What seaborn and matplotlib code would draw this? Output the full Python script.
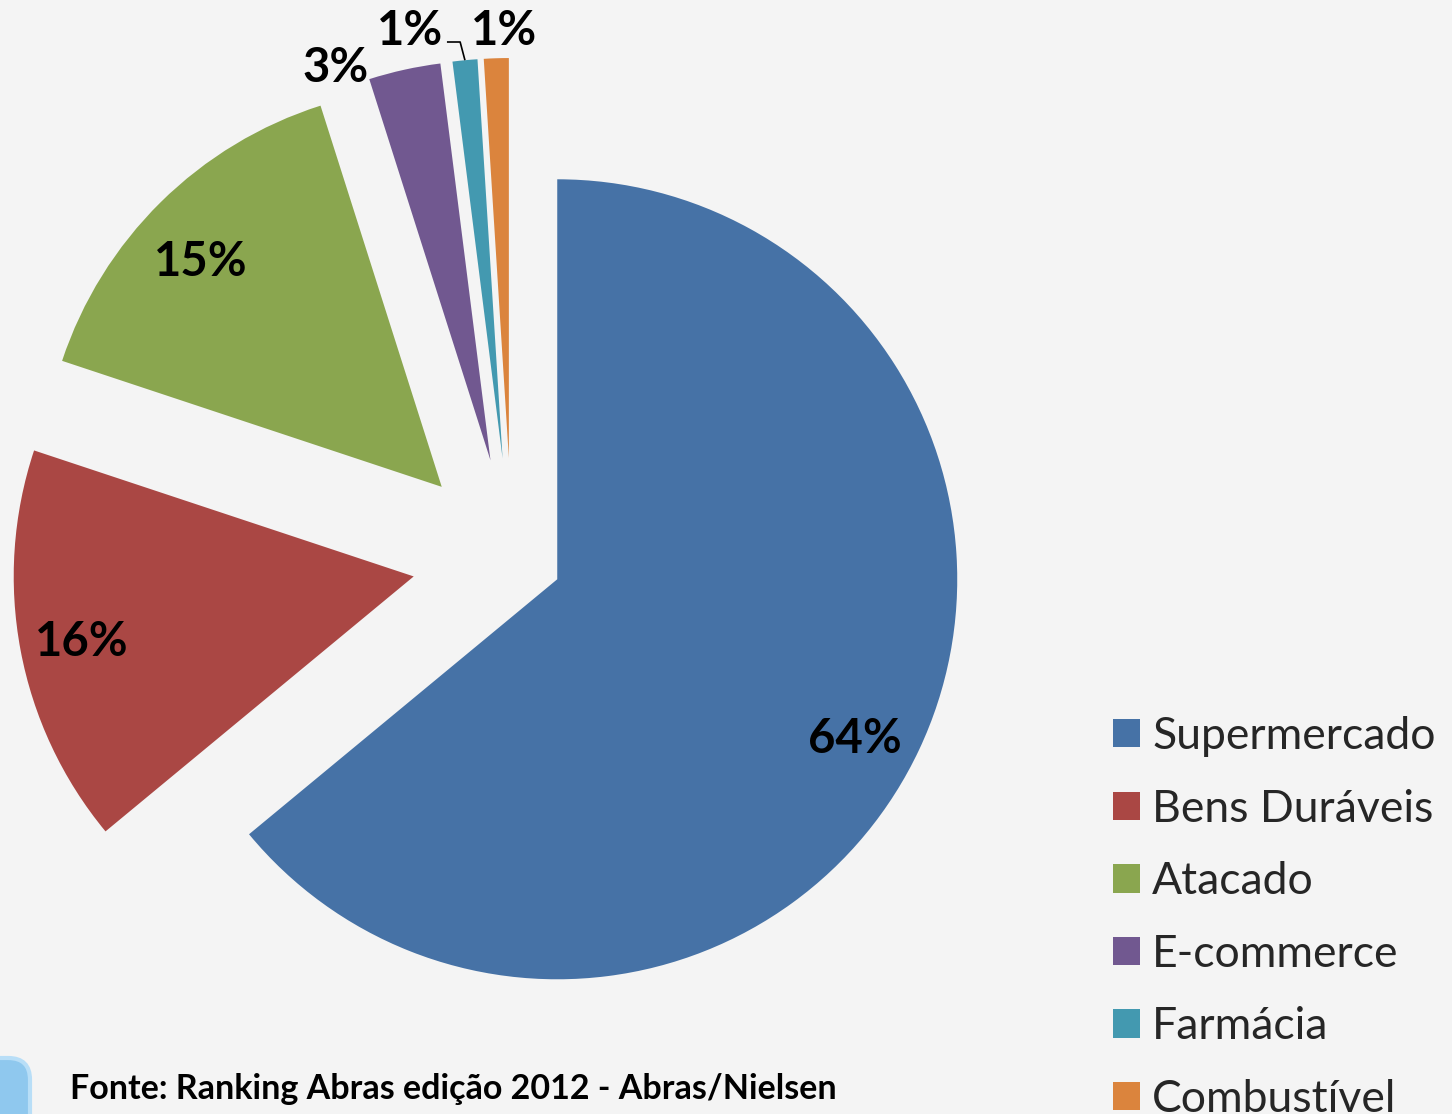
import matplotlib
matplotlib.use("Agg")
import numpy as np
import matplotlib.pyplot as plt
from matplotlib.patches import Patch, FancyBboxPatch
import seaborn as sns

# dados
categories = ["Supermercado", "Bens Duráveis", "Atacado", "E-commerce", "Farmácia", "Combustível"]
shares = [64.0, 16.1, 15.0, 2.9, 1.0, 1.0]
colors = ["#4672A6", "#AA4744", "#8AA64F", "#715890", "#4399B0", "#DB843D"]
source = "Fonte: Ranking Abras edição 2012 - Abras/Nielsen"

sns.set_theme(style="white")
plt.rcParams["font.family"] = ["Lato", "DejaVu Sans"]

W, H = 1452, 1114
R = 400            # raio da pizza em px
cx, cy = 512, 558  # centro da pizza (px, a partir do canto superior esquerdo)
bg = "#F4F4F4"

fig = plt.figure(figsize=(W / 100, H / 100), dpi=100, facecolor=bg)
ax = fig.add_axes([0, 0, 1, 1])
ax.set_facecolor(bg)

explode = [0.125, 0.25, 0.25, 0.25, 0.25, 0.25]
wedges, texts, autotexts = ax.pie(
    shares,
    colors=sns.color_palette(colors),
    startangle=90,
    counterclock=False,
    explode=explode,
    autopct="%.0f%%",
    pctdistance=0.84,
    textprops=dict(fontsize=34, fontweight="bold", color="black"),
    wedgeprops=dict(linewidth=0),
)
ax.set_xlim(-cx / R, (W - cx) / R)
ax.set_ylim(-(H - cy) / R, cy / R)
ax.set_aspect("equal")
ax.axis("off")


def px(x, y):
    return (x - cx) / R, (cy - y) / R


# posição dos rótulos (centro do texto, em px)
label_pos = [(855, 739), (82, 642), (201, 262), (336, 68), (410, 31), (504, 31)]
for t, (x, y) in zip(autotexts, label_pos):
    t.set_position(px(x, y))

# linha guia da Farmácia
w = wedges[4]
tm = np.deg2rad((w.theta1 + w.theta2) / 2)
tip_x = w.center[0] + w.r * np.cos(tm)
tip_y = w.center[1] + w.r * np.sin(tm)
ly = px(0, 42)[1]
ax.plot([tip_x - 0.045, tip_x - 0.012, tip_x], [ly, ly, tip_y],
        color="black", lw=1.2, solid_capstyle="butt")

# legenda
handles = [Patch(facecolor=c, edgecolor="none") for c in colors]
fig.legend(
    handles, categories,
    loc="upper left", bbox_to_anchor=(1113 / W, 1 - 716 / H),
    frameon=False, fontsize=32,
    handlelength=0.6, handleheight=0.6, handletextpad=0.28,
    labelspacing=0.71, borderpad=0, borderaxespad=0,
)

# fonte
fig.text(70 / W, 1 - 1089 / H, source, fontsize=24.5, fontweight="bold",
         va="center", ha="left", color="black")

# ícone decorativo no canto inferior esquerdo
icon = FancyBboxPatch((-25 / W, -30 / H), 55 / W, 86 / H,
                      boxstyle="round,pad=0,rounding_size=0.015",
                      transform=fig.transFigure, facecolor="#8FC8EE",
                      edgecolor="#B8DEF7", linewidth=3, mutation_aspect=W / H)
fig.patches.append(icon)

fig.savefig("out.png", dpi=100, facecolor=bg)
